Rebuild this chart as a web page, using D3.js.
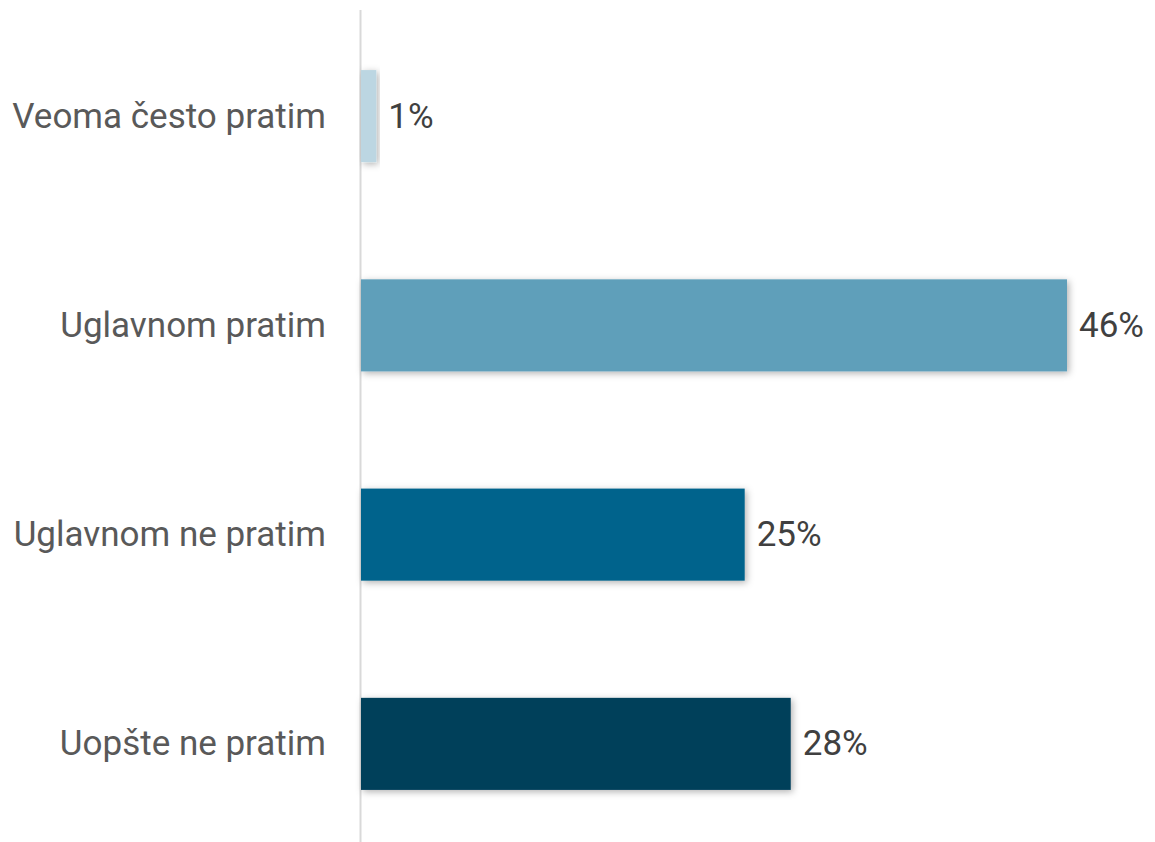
<!DOCTYPE html>
<html><head><meta charset="utf-8">
<script src="https://cdn.jsdelivr.net/npm/d3@7"></script>
<style>html,body{margin:0;padding:0;background:#fff;}</style>
</head><body>
<svg id="chart" width="1155" height="842"></svg>
<script>
const categories = ["Veoma često pratim", "Uglavnom pratim", "Uglavnom ne pratim", "Uopšte ne pratim"];
const values = [1, 46, 25, 28];
const colors = ["#BCD6E2", "#5F9FBA", "#05648C", "#033F5A"];

const svg = d3.select("#chart");
const defs = svg.append("defs");
const f = defs.append("filter").attr("id","sh").attr("x","-10%").attr("y","-20%").attr("width","130%").attr("height","150%");
f.append("feDropShadow").attr("dx",2).attr("dy",2).attr("stdDeviation",3.5).attr("flood-color","#000").attr("flood-opacity",0.3);

const x = d3.scaleLinear().domain([0, 46]).range([361, 1067]);
const y = d3.scaleBand().domain(categories).range([11.5, 848.5]).paddingInner(0.56).paddingOuter(0.28);

svg.append("line").attr("x1",360.5).attr("x2",360.5).attr("y1",10).attr("y2",842)
  .attr("stroke","#d9d9d9").attr("stroke-width",2);

svg.selectAll("rect.bar").data(categories).join("rect").attr("class","bar")
  .attr("x", x(0)).attr("y", d => y(d))
  .attr("width", (d,i) => x(values[i]) - x(0))
  .attr("height", y.bandwidth())
  .attr("fill", (d,i) => colors[i])
  .attr("filter","url(#sh)");

svg.selectAll("text.cat").data(categories).join("text").attr("class","cat")
  .attr("x", 326).attr("y", d => y(d) + y.bandwidth()/2)
  .attr("text-anchor","end").attr("dominant-baseline","central")
  .attr("font-family","Roboto, 'Liberation Sans', sans-serif").attr("font-size",35)
  .attr("fill","#595959").text(d => d);

svg.selectAll("text.val").data(categories).join("text").attr("class","val")
  .attr("x", (d,i) => x(values[i]) + 12).attr("y", d => y(d) + y.bandwidth()/2)
  .attr("dominant-baseline","central")
  .attr("font-family","Roboto, 'Liberation Sans', sans-serif").attr("font-size",35)
  .attr("fill","#404040").text((d,i) => values[i] + "%");
</script>
</body></html>
